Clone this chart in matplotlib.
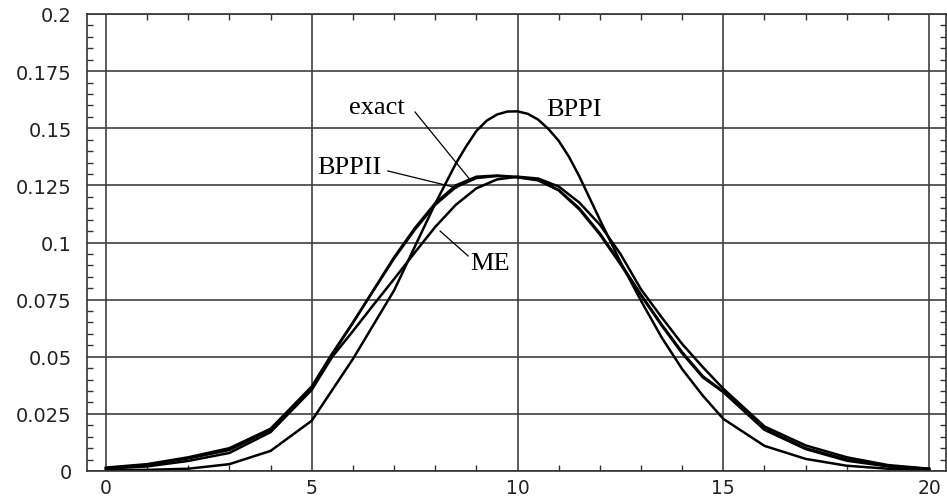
import matplotlib
matplotlib.use("Agg")
import matplotlib.pyplot as plt
from matplotlib.ticker import MultipleLocator, FixedLocator

# sample points (finer grid in the middle)
x = [0, 1, 2, 3, 4, 5, 5.5, 6, 6.5, 7, 7.5, 8, 8.5, 9, 9.5, 10,
     10.5, 11, 11.5, 12, 12.5, 13, 13.5, 14, 14.5, 15, 16, 17, 18, 19, 20]

exact = [0.0015, 0.0030, 0.0060, 0.0100, 0.0185, 0.0370, 0.0515, 0.0650,
         0.0790, 0.0930, 0.1055, 0.1165, 0.1242, 0.1282, 0.1291, 0.1285,
         0.1272, 0.1228, 0.1145, 0.1035, 0.0905, 0.0768, 0.0637, 0.0515,
         0.0410, 0.0345, 0.0180, 0.0096, 0.0045, 0.0020, 0.0008]

bppii = [0.0012, 0.0027, 0.0055, 0.0092, 0.0180, 0.0365, 0.0510, 0.0648,
         0.0792, 0.0935, 0.1062, 0.1172, 0.1250, 0.1288, 0.1293, 0.1287,
         0.1274, 0.1230, 0.1150, 0.1040, 0.0910, 0.0772, 0.0642, 0.0520,
         0.0415, 0.0348, 0.0185, 0.0100, 0.0050, 0.0022, 0.0009]

me = [0.0010, 0.0020, 0.0044, 0.0079, 0.0170, 0.0355, 0.0500, 0.0612,
      0.0727, 0.0840, 0.0955, 0.1068, 0.1165, 0.1237, 0.1276, 0.1288,
      0.1280, 0.1245, 0.1175, 0.1078, 0.0950, 0.0795, 0.0673, 0.0556,
      0.0455, 0.0360, 0.0195, 0.0112, 0.0060, 0.0026, 0.0010]

bppi_x = [0, 1, 2, 3, 4, 5, 5.5, 6, 6.5, 7, 7.5, 8, 8.5, 8.75, 9, 9.25,
          9.5, 9.75, 10, 10.25, 10.5, 10.75, 11, 11.25, 11.5, 12, 12.5,
          13, 13.5, 14, 14.5, 15, 16, 17, 18, 19, 20]
bppi = [0.0003, 0.0005, 0.0010, 0.0030, 0.0088, 0.0220, 0.0355, 0.0490,
        0.0640, 0.0790, 0.0980, 0.1170, 0.1345, 0.1420, 0.1488, 0.1533,
        0.1560, 0.1573, 0.1574, 0.1563, 0.1538, 0.1497, 0.1445, 0.1375,
        0.1290, 0.1100, 0.0915, 0.0745, 0.0585, 0.0446, 0.0330, 0.0228,
        0.0110, 0.0053, 0.0023, 0.0010, 0.0004]

x_ticks = [0, 5, 10, 15, 20]
y_ticks = [0, 0.025, 0.05, 0.075, 0.1, 0.125, 0.15, 0.175, 0.2]
y_labels = ["0", "0.025", "0.05", "0.075", "0.1", "0.125", "0.15", "0.175", "0.2"]

fig = plt.figure(figsize=(9.47, 5.02), dpi=100)
ax = fig.add_axes([87 / 947, 30 / 502, 859 / 947, 457 / 502])

for xs, s in ((x, exact), (x, bppii), (x, me), (bppi_x, bppi)):
    ax.plot(xs, s, color="black", lw=1.8, solid_joinstyle="round")

ax.set_xlim(-0.46, 20.41)
ax.set_ylim(0, 0.2)
ax.xaxis.set_major_locator(FixedLocator(x_ticks))
ax.yaxis.set_major_locator(FixedLocator(y_ticks))
ax.set_yticklabels(y_labels)
ax.xaxis.set_minor_locator(MultipleLocator(1))
ax.yaxis.set_minor_locator(MultipleLocator(0.005))
ax.grid(True, which="major", color="#404040", lw=1.2)
ax.set_axisbelow(True)

ax.tick_params(which="both", direction="in", top=True, right=True,
               labelsize=14, labelcolor="#222222")
ax.tick_params(axis="y", which="major", length=0, pad=11)
ax.tick_params(axis="x", which="major", length=0, pad=5, labelsize=13.5)
ax.tick_params(which="minor", length=4, width=1, color="#333333")
for sp in ax.spines.values():
    sp.set_linewidth(1.2)
    sp.set_color("#333333")

serif = "Liberation Serif"
ax.text(6.58, 0.1595, "exact", family=serif, fontsize=19, ha="center", va="center")
ax.text(10.7, 0.1585, "BPPI", family=serif, fontsize=19, ha="left", va="center")
ax.text(5.92, 0.1330, "BPPII", family=serif, fontsize=19, ha="center", va="center")
ax.text(8.85, 0.0912, "ME", family=serif, fontsize=19, ha="left", va="center")

ax.plot([7.51, 8.85], [0.1571, 0.1274], color="black", lw=0.9)
ax.plot([6.85, 8.53], [0.1313, 0.1239], color="black", lw=0.9)
ax.plot([8.12, 8.8], [0.1050, 0.0941], color="black", lw=0.9)

fig.savefig("out.png", dpi=100)
